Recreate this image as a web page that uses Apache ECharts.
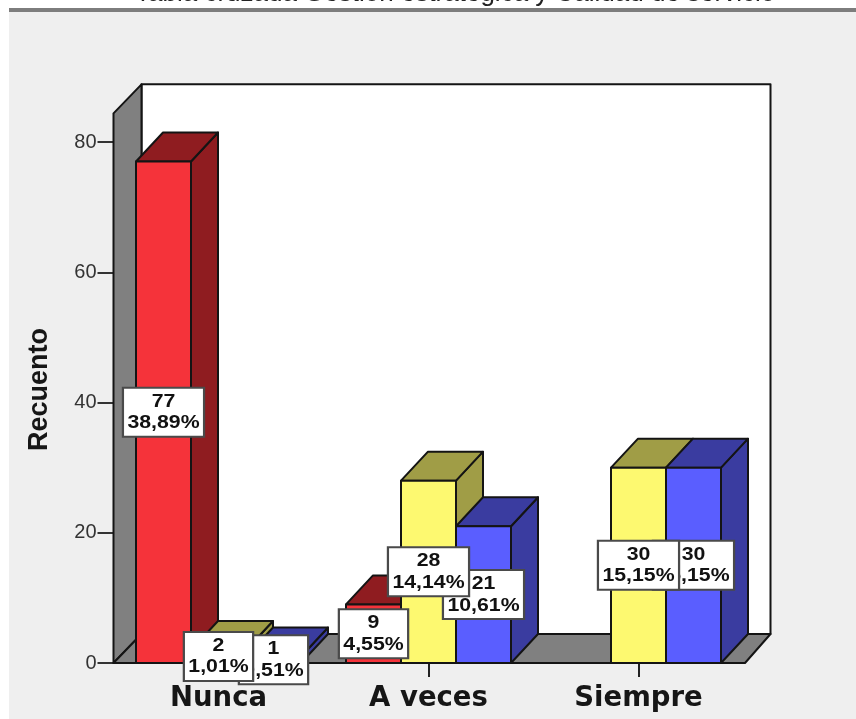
<!DOCTYPE html>
<html>
<head>
<meta charset="utf-8">
<style>html,body{margin:0;padding:0;background:#fff}#chart{width:856px;height:719px}</style>
<script src="https://cdn.jsdelivr.net/npm/echarts@6/dist/echarts.min.js"></script>
</head>
<body>
<div id="chart"></div>
<script>
// Cross-tabulated counts per answer category
const categories = ['Nunca', 'A veces', 'Siempre'];
const yTicks = { min: 0, max: 80, interval: 20 };
const rojoValues = [77, 9, null];
const amarilloValues = [2, 28, 30];
const azulValues = [1, 21, 30];
const rojoPercents = ['38,89%', '4,55%', ''];
const amarilloPercents = ['1,01%', '14,14%', '15,15%'];
const azulPercents = ['0,51%', '10,61%', '15,15%'];
const titleText = 'Tabla cruzada Gestión estratégica y Calidad de servicio';

// Fake-3D extrusion and wall extents
const BAR_W = 55, DEPTH_X = 27, DEPTH_Y = 29;
const WALL_TOP = 84.4;
const EDGE = '#141414';

function poly(points, fill, z2) {
  return { type: 'polygon', z2: z2, shape: { points: points },
    style: { fill: fill, stroke: EDGE, lineWidth: 2, lineJoin: 'round' } };
}

// One extruded bar plus its boxed value label
function boxSeries(name, values, percents, slot, colors, barZ, labelZ) {
  const rows = values.map((v, i) => [i, v, percents[i]]).filter(r => r[1] !== null);
  return {
    type: 'custom', name: name, data: rows, clip: false,
    encode: { x: 0, y: 1 },
    renderItem: function (params, api) {
      const base = api.coord([api.value(0), 0]);
      const top = api.coord([api.value(0), api.value(1)]);
      const x0 = base[0] - BAR_W / 2 + slot * BAR_W, x1 = x0 + BAR_W;
      const y0 = base[1], y1 = top[1];
      const count = api.value(1);
      const pct = rows[params.dataIndex][2];
      return { type: 'group', children: [
        poly([[x1, y0], [x1 + DEPTH_X, y0 - DEPTH_Y], [x1 + DEPTH_X, y1 - DEPTH_Y], [x1, y1]], colors[2], barZ),
        poly([[x0, y1], [x0 + DEPTH_X, y1 - DEPTH_Y], [x1 + DEPTH_X, y1 - DEPTH_Y], [x1, y1]], colors[1], barZ),
        poly([[x0, y0], [x1, y0], [x1, y1], [x0, y1]], colors[0], barZ),
        { type: 'text', z2: labelZ, x: (x0 + x1) / 2, y: (y0 + y1) / 2, scaleX: 1.12,
          style: { text: count + '\n' + pct, x: 0, y: 0, align: 'center', verticalAlign: 'middle',
            font: 'bold 19px "Liberation Sans"', lineHeight: 21.5, fill: '#111',
            backgroundColor: '#fff', borderColor: '#4a4a4a', borderWidth: 2, padding: [3, 3, 1, 3] } }
      ] };
    }
  };
}

// Grey side wall and floor, white back wall
const wallSeries = {
  type: 'custom', data: [[0, 0]], clip: false, silent: true,
  encode: { x: 0, y: 1 },
  renderItem: function (params, api) {
    const c = params.coordSys;
    const l = c.x, r = c.x + c.width, b = c.y + c.height;
    const t = api.coord([0, WALL_TOP])[1];
    return { type: 'group', children: [
      poly([[l + 28, t - 29], [r + 27, t - 29], [r + 27, b - 29], [l + 28, b - 29]], '#ffffff', 1),
      poly([[l, t], [l + 28, t - 29], [l + 28, b - 29], [l, b]], '#808080', 2),
      poly([[l, b], [l + 28, b - 29], [r + 27, b - 29], [r + 1.5, b]], '#808080', 2)
    ] };
  }
};

const chart = echarts.init(document.getElementById('chart'), null, { renderer: 'canvas' });
chart.setOption({
  animation: false,
  backgroundColor: '#ffffff',
  title: {
    text: titleText, left: 130, top: -24,
    textStyle: { fontFamily: 'Liberation Sans', fontSize: 26, fontWeight: 'normal', color: '#222' }
  },
  graphic: [
    { type: 'rect', z: -10, silent: true, shape: { x: 9, y: 12, width: 847, height: 707 }, style: { fill: '#efefef' } },
    { type: 'rect', z: -10, silent: true, shape: { x: 9, y: 8, width: 847, height: 4 }, style: { fill: '#7d7d7d' } }
  ],
  grid: { left: 113.5, width: 630, top: 142, bottom: 56 },
  xAxis: {
    type: 'category', data: categories,
    axisLine: { show: false },
    axisTick: { show: true, alignWithLabel: true, length: 14, lineStyle: { color: '#222', width: 2 } },
    axisLabel: { margin: 22, fontFamily: 'DejaVu Sans', fontWeight: 'bold', fontSize: 27.5, color: '#161616' }
  },
  yAxis: {
    type: 'value', min: yTicks.min, max: yTicks.max, interval: yTicks.interval,
    name: 'Recuento', nameLocation: 'middle', nameRotate: 90, nameGap: 60,
    nameTextStyle: { fontFamily: 'Liberation Sans', fontWeight: 'bold', fontSize: 27, color: '#161616', padding: [0, 0, 0, 26] },
    splitLine: { show: false },
    axisLine: { show: false },
    axisTick: { show: true, length: 16, lineStyle: { color: '#333', width: 2 } },
    axisLabel: { margin: 17, fontFamily: 'Liberation Sans', fontSize: 20, color: '#333' }
  },
  series: [
    wallSeries,
    boxSeries('Rojo', rojoValues, rojoPercents, -1, ['#f5333a', '#8f1c20', '#8f1c20'], 10, 101),
    boxSeries('Amarillo', amarilloValues, amarilloPercents, 0, ['#fdf970', '#a09d46', '#a09d46'], 20, 102),
    boxSeries('Azul', azulValues, azulPercents, 1, ['#5a5eff', '#3a3ca0', '#3a3ca0'], 30, 100)
  ]
});
</script>
</body>
</html>
